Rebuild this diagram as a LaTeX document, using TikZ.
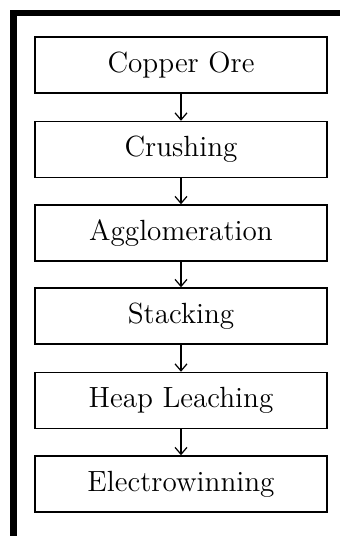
\documentclass[tikz,border=0pt]{standalone}
\usepackage{tikz}
\usetikzlibrary{arrows.meta}
\usetikzlibrary{positioning}

\tikzset{stage/.style={draw, line width=0.75pt, minimum width=146pt, minimum height=28pt, inner sep=0pt, font=\fontsize{14.6}{17}\selectfont},
  flow/.style={line width=0.6pt, -{Straight Barb[length=3.5pt, width=6pt, line width=0.6pt]}}}

\begin{document}
\begin{tikzpicture}[x=0.5pt, y=-0.5pt]
\useasboundingbox (0, 0) rectangle (340, 536);
\fill[white] (0, 0) rectangle (340, 536);
% frame
\draw[line width=3.3pt] (340, 13) -- (13.5, 13) -- (13.5, 540);
% stages
\node[stage] (ore) at (181, 65) {Copper Ore};
\node[stage] (crush) at (181, 149.5) {Crushing};
\node[stage] (agglo) at (181, 233) {Agglomeration};
\node[stage] (stack) at (181, 316) {Stacking};
\node[stage] (heap) at (181, 400.5) {Heap Leaching};
\node[stage] (ew) at (181, 484) {Electrowinning};
\draw[flow] (ore) -- (crush);
\draw[flow] (crush) -- (agglo);
\draw[flow] (agglo) -- (stack);
\draw[flow] (stack) -- (heap);
\draw[flow] (heap) -- (ew);
\end{tikzpicture}
\end{document}
